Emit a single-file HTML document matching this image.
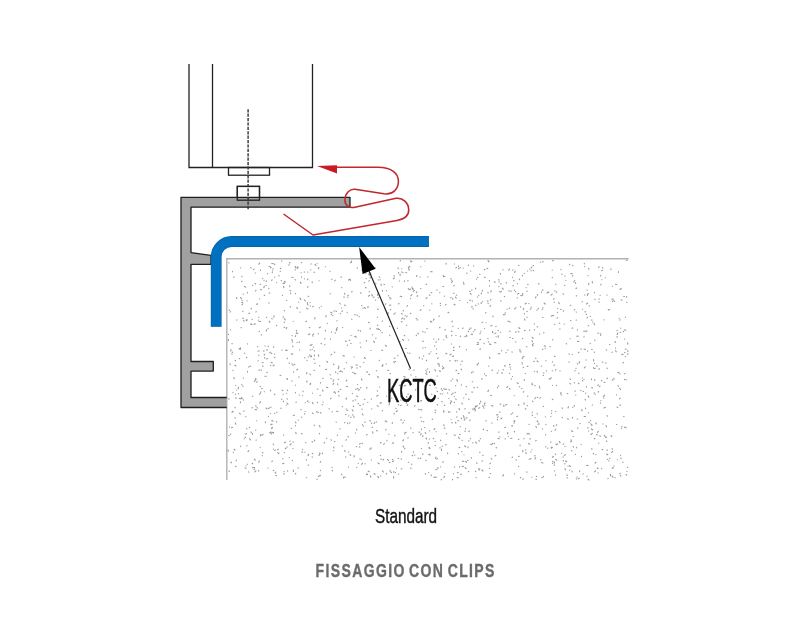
<!DOCTYPE html>
<html><head><meta charset="utf-8">
<style>
html,body{margin:0;padding:0;background:#fff;width:800px;height:640px;overflow:hidden}
svg{position:absolute;left:0;top:0}
.t{font-family:"Liberation Sans",sans-serif}
.tx{will-change:transform}
</style></head><body>
<svg width="800" height="640" viewBox="0 0 800 640">
<!-- concrete -->
<path d="M597.9 468.2l0.2 0.0M350.7 343.2l0.5 0.2M304.8 357.6l-0.1 0.4M588.7 283.2l0.0 1.4M235.8 397.8l0.3 0.6M251.0 431.9l0.4 0.8M296.8 307.4l0.6 1.3M531.9 340.9l0.6 0.7M617.9 385.8l0.6 0.4M421.2 433.7l-0.6 1.3M300.8 299.2l-0.3 0.4M436.0 387.8l0.2 0.1M243.6 320.5l0.6 0.7M464.0 283.9l-0.1 0.5M585.8 359.8l0.3 0.3M270.9 432.0l-1.1 0.8M425.2 332.1l-0.4 0.1M465.1 467.5l0.1 0.4M241.5 398.5l0.7 0.1M551.8 410.8l-0.3 0.2M607.5 378.2l-0.5 0.5M366.5 473.9l0.0 0.7M242.8 318.0l0.7 0.5M601.4 468.6l0.4 0.1M450.5 402.6l-0.2 1.4M553.1 315.5l0.6 0.3M232.7 427.2l-1.3 0.5M553.5 456.5l-1.2 0.8M255.8 470.9l-1.0 1.0M446.3 353.3l-0.4 0.3M450.8 380.7l0.5 0.2M480.5 333.0l-0.6 0.7M400.2 296.3l1.4 0.3M452.8 378.9l-0.4 0.1M611.0 435.5l0.9 1.1M363.3 265.2l-0.3 0.3M388.7 434.2l0.2 0.1M407.7 352.7l0.0 0.2M338.9 391.1l-0.6 0.7M299.1 376.9l-0.5 0.2M262.6 452.4l0.3 0.6M235.1 360.3l0.4 0.6M355.9 336.7l0.3 0.4M600.1 295.2l0.1 0.2M554.6 364.9l-0.8 0.3M443.5 411.7l0.5 0.4M333.6 447.1l0.4 0.8M476.2 477.3l-0.1 0.5M404.9 448.4l-0.4 0.3M272.5 427.4l-0.4 0.8M245.1 437.2l0.4 0.3M454.1 396.5l0.2 0.1M431.6 394.1l0.3 0.4M259.3 460.9l-0.5 1.3M244.4 286.4l1.2 0.8M235.6 394.1l-0.4 0.1M345.8 456.8l-0.1 0.5M536.3 440.3l-0.7 0.6M269.0 266.4l0.5 0.1M570.8 305.2l-0.7 0.0M531.0 308.8l-0.8 0.4M402.4 339.4l1.1 0.9M452.4 422.7l-0.7 0.2M620.6 475.6l0.2 0.4M620.8 328.1l0.0 0.2M368.1 306.2l-0.2 1.4M312.2 349.3l0.2 0.0M522.4 363.7l-0.1 0.4M393.7 314.0l0.5 0.1M346.5 439.7l-0.6 0.4M458.2 472.4l-0.9 0.3M480.5 438.6l-0.4 0.1M620.5 405.1l-0.7 0.0M410.6 260.7l0.5 1.3M250.8 267.5l0.3 0.6M605.2 407.4l-1.3 0.5M515.7 291.5l-0.1 0.1M552.6 361.9l-0.2 0.0M397.4 410.7l-1.1 0.8M274.9 263.9l-0.3 0.9M440.6 303.3l-0.4 0.3M352.9 414.5l0.0 0.7M446.4 433.6l0.2 0.4M523.6 308.3l-0.3 1.4M588.5 293.6l-1.1 0.9M283.9 463.4l-1.4 0.3M615.9 284.3l0.9 0.2M260.5 434.6l0.1 1.4M602.6 267.7l0.3 0.4M457.1 477.8l1.4 0.0M596.0 462.1l-0.9 1.0M256.3 440.0l-0.3 0.2M423.5 421.6l0.3 0.3M598.6 391.7l-0.5 0.5M455.7 385.5l-0.1 0.2M283.7 434.9l-0.2 0.4M604.2 382.4l0.7 0.0M426.7 360.2l-0.3 0.4M472.8 442.7l0.2 0.3M564.5 285.2l0.4 0.2M461.3 474.1l-0.8 0.4M528.9 303.2l-0.0 0.4M442.7 390.2l-0.4 0.2M334.5 391.7l-0.6 0.7M608.7 460.9l0.4 0.1M400.1 274.1l-0.0 1.4M621.4 428.6l-0.1 0.2M287.1 398.5l0.1 0.7M291.8 380.8l0.2 0.3M453.5 473.6l-0.2 0.1M522.5 293.5l0.4 0.8M240.6 267.8l0.2 0.1M584.0 336.6l0.0 0.4M539.7 334.1l-0.2 0.1M592.2 433.3l0.1 0.2M494.6 342.6l1.4 0.1M454.2 402.4l0.2 0.0M571.4 430.8l1.3 0.6M568.5 406.7l-0.5 1.3M613.5 467.9l-1.4 0.2M507.9 349.9l-0.0 0.4M437.1 469.1l-1.2 0.8M455.8 398.8l0.3 0.9M523.8 391.7l-0.5 0.5M518.8 439.2l-0.4 0.3M447.4 453.0l0.3 0.6M598.4 431.3l-1.0 1.0M259.6 298.9l-0.1 0.2M319.0 476.2l-0.7 0.2M560.9 392.2l-0.1 1.4M332.3 467.5l-0.4 0.0M502.9 475.4l0.0 0.4M356.5 429.3l0.3 0.6M445.3 389.1l1.4 0.2M378.1 329.1l1.3 0.5M252.7 285.3l-0.2 0.1M341.6 287.6l0.4 0.1M496.0 333.0l-0.8 0.4M552.5 461.4l0.7 0.5M454.1 347.1l-0.6 0.6M340.9 370.8l-1.1 0.9M520.1 445.1l-0.1 0.7M484.2 269.6l0.7 0.0M372.6 431.7l0.3 1.4M319.8 454.4l-0.9 1.1M509.6 321.6l0.7 0.5M351.3 366.7l-0.2 0.1M330.4 374.7l-0.4 0.2M624.6 352.5l0.4 0.1M310.2 345.0l-0.2 0.1M276.3 421.6l0.4 0.3M560.7 309.4l0.4 0.0M501.7 372.9l0.7 0.2M298.7 302.2l-0.2 0.1M587.9 275.6l0.2 0.0M376.6 421.9l-0.0 0.2M507.8 386.5l-1.0 0.9M582.7 309.2l-0.2 0.1M281.2 280.6l0.4 0.1M627.7 467.3l-0.1 0.2M404.1 318.5l-0.0 0.7M552.2 270.1l-0.0 0.2M296.4 330.4l0.1 0.9M556.5 385.3l0.2 0.3M460.1 267.2l-0.1 0.9M494.5 443.3l0.0 0.4M263.1 434.4l-1.2 0.7M482.7 405.7l0.8 1.2M542.4 309.2l-0.2 0.4M241.8 276.3l0.2 0.5M456.8 411.7l-0.1 0.4M587.3 295.0l0.1 0.4M272.1 279.8l-0.4 0.8M420.1 276.7l-0.0 0.2M574.7 309.6l-0.4 0.3M298.4 420.1l-0.1 0.2M619.6 373.8l0.3 0.2M289.9 290.6l0.8 0.4M588.7 422.2l0.6 0.3M519.0 265.4l-0.4 0.1M399.3 385.3l0.4 0.2M599.0 266.6l-0.3 0.9M421.0 309.7l-0.8 0.5M408.1 378.9l0.2 0.1M367.2 434.6l-0.9 0.3M363.7 426.0l-0.5 0.1M500.2 332.3l0.4 0.0M455.0 360.5l0.7 0.6M264.5 391.7l-0.2 0.1M377.4 309.1l0.9 0.3M381.0 284.2l0.2 0.3M504.4 314.6l0.5 0.2M326.8 361.3l0.8 1.1M337.1 329.1l-0.7 0.2M322.7 389.9l0.3 1.4M456.8 370.3l-0.8 0.4M498.2 416.8l-0.7 0.6M466.3 349.5l0.1 0.4M417.6 390.0l-0.1 0.2M552.6 260.5l0.8 0.5M576.5 288.0l-0.5 0.5M383.7 459.4l-0.6 0.6M483.5 429.2l-0.3 0.4M532.4 412.0l-0.2 0.4M609.5 344.5l0.4 0.1M527.3 291.1l-0.5 0.1M381.8 350.2l0.9 0.2M608.1 478.4l-0.2 0.3M236.8 319.9l-0.1 0.4M287.4 390.1l0.2 0.5M527.3 311.4l-0.4 0.2M426.6 438.3l0.0 0.7M522.7 450.5l0.2 1.4M427.8 276.8l0.1 0.4M582.0 409.7l-0.1 0.5M245.8 416.5l0.1 0.1M500.0 404.0l0.8 0.3M476.6 462.7l0.4 0.8M415.6 376.7l0.5 0.2M316.5 411.9l0.9 0.0M351.7 262.0l-1.1 0.8M317.1 263.5l-0.0 0.2M438.1 357.8l-0.4 0.8M492.6 370.0l-0.6 0.4M346.2 408.9l0.1 0.2M461.9 403.1l0.4 0.8M379.1 360.2l0.4 0.2M300.5 282.7l0.6 0.7M424.6 427.6l0.2 0.1M557.4 317.6l-0.3 0.6M374.0 473.5l1.1 0.9M368.1 471.0l1.1 0.8M544.3 345.9l1.4 0.3M603.2 396.2l0.7 0.1M261.0 369.9l0.4 0.3M541.6 292.1l0.0 0.5M230.6 329.8l0.0 0.2M370.5 475.9l0.2 1.4M342.6 310.8l-0.7 0.6M256.7 420.7l-0.2 0.0M322.8 404.7l-0.9 0.1M496.1 447.3l0.5 0.5M409.4 269.9l-0.4 0.1M269.9 293.0l-0.9 0.0M359.5 446.8l0.3 0.4M584.8 266.7l-0.4 0.1M466.9 417.8l-0.8 0.4M282.2 350.0l-0.3 0.2M542.5 349.3l0.4 0.3M431.0 321.1l-0.7 0.6M360.2 330.6l0.3 0.6M341.7 307.9l-0.2 0.1M575.8 368.2l0.4 0.0M432.1 419.1l0.7 0.3M504.7 296.5l-0.4 0.1M555.3 454.0l0.3 0.6M478.5 363.2l-0.7 0.6M423.0 331.4l-0.1 0.5M255.3 272.9l0.1 0.2M377.8 476.4l0.8 1.2M592.1 425.0l-0.2 0.7M337.1 320.5l-0.1 0.5M448.3 411.8l0.6 0.4M541.2 366.0l0.3 0.2M465.8 336.5l-0.9 0.3M428.2 399.7l-0.5 0.5M314.6 440.0l-0.0 0.9M244.2 438.7l0.2 0.0M613.9 465.7l0.1 0.4M403.9 376.4l1.2 0.7M444.5 296.1l-0.2 0.1M271.7 263.5l1.4 0.1M552.1 294.2l-1.1 0.9M334.3 441.5l0.5 0.1M343.0 355.6l1.4 0.4M519.2 386.8l0.4 0.1M340.1 428.6l-0.0 0.4M446.0 336.6l0.8 1.1M372.4 295.5l-0.2 0.5M333.5 364.2l0.5 0.5M551.2 447.0l0.0 0.5M590.3 343.2l-0.2 0.5M529.5 330.1l0.2 0.5M514.3 290.0l-0.0 0.4M304.3 278.7l0.2 0.1M267.3 358.5l-0.7 0.5M441.8 401.4l0.3 0.6M271.8 420.6l1.3 0.6M352.2 409.8l0.8 1.2M228.5 339.2l-0.2 1.4M556.1 292.1l0.7 0.0M444.9 405.1l-0.5 0.4M477.6 364.5l-0.5 0.5M258.8 355.3l0.1 0.4M599.5 368.9l-0.7 0.2M349.7 279.2l-1.2 0.8M268.4 416.3l-0.1 0.4M572.4 417.2l0.1 0.9M617.3 330.3l-0.4 0.3M473.3 331.3l0.1 0.1M512.5 376.2l-0.0 0.2M238.4 387.4l-0.2 1.4M410.6 428.1l0.4 0.2M538.5 308.2l-0.4 0.6M538.4 283.7l0.2 0.1M498.7 370.8l-0.2 0.0M235.3 422.9l0.5 1.3M554.0 298.5l-0.4 0.8M485.9 420.6l0.3 0.4M240.6 297.6l0.7 1.2M338.0 379.2l0.7 0.1M598.4 384.9l-0.6 0.7M607.2 449.9l-0.1 0.9M547.4 292.5l-0.3 0.6M361.0 292.6l-0.2 0.9M571.6 440.8l-1.0 1.0M587.9 427.4l0.1 0.7M396.5 468.1l0.0 0.2M499.1 281.8l-0.1 0.2M238.5 393.6l0.0 0.2M612.0 448.6l0.3 0.6M275.7 475.6l0.7 0.0M624.4 379.3l0.7 0.5M325.5 266.7l-0.2 0.0M554.3 324.2l0.7 0.0M460.8 364.4l-0.0 0.2M295.5 385.0l-0.0 0.2M255.8 430.0l-0.1 0.1M430.0 295.1l-0.7 0.0M469.2 430.9l-0.2 0.7M451.1 354.0l-1.1 0.8M573.8 281.7l0.3 0.3M423.0 435.8l-0.4 0.8M228.8 435.5l0.4 0.2M306.6 308.0l0.1 0.4M356.9 367.7l0.1 0.5M444.1 410.8l-0.5 0.0M510.5 369.1l0.1 0.2M382.4 470.9l1.0 1.0M359.9 458.7l-0.1 0.2M617.7 333.1l-0.6 1.3M597.9 467.9l-0.7 0.6M461.2 418.0l0.3 0.8M406.5 396.2l0.4 1.3M408.1 393.7l-0.0 0.7M380.6 330.5l0.0 0.2M403.8 399.4l0.2 0.4M615.6 348.0l-0.1 0.2M600.3 403.0l0.4 0.1M229.0 471.0l0.4 0.4M437.0 289.9l-0.0 0.4M359.5 389.6l-1.1 0.8M399.3 280.9l0.1 0.2M565.5 454.7l-1.3 0.6M410.0 353.2l-0.7 0.0M307.4 302.5l0.0 0.7M235.5 385.5l0.2 0.0M335.2 332.6l0.1 0.5M532.0 477.0l0.0 0.2M435.1 380.0l-0.4 0.2M233.2 411.5l-1.2 0.7M602.7 449.4l-0.6 0.4M249.7 438.7l0.7 1.2M530.8 270.8l0.5 0.0M427.3 328.6l-0.5 0.1M231.4 462.1l-0.5 0.8M625.3 349.0l0.9 0.3M429.9 448.3l-0.2 0.5M298.3 267.1l-1.4 0.3M453.2 326.2l-0.5 0.1M351.0 417.1l-0.4 0.3M615.1 341.7l0.5 0.5M621.0 457.9l-0.0 0.7M231.1 349.6l-0.5 1.3M312.9 335.7l0.1 0.5M295.5 422.1l0.5 0.8M284.4 318.7l0.9 1.1M615.7 284.3l-0.0 0.2M429.7 454.4l0.2 0.7M527.2 405.5l0.3 0.2M534.2 323.8l0.4 0.2M606.9 415.7l0.6 0.4M258.8 317.3l0.1 0.2M257.0 303.7l0.6 0.3M394.5 275.9l-0.7 0.1M585.6 408.1l-0.0 0.4M562.1 407.9l0.2 0.7M490.7 305.7l-0.8 0.5M435.0 410.0l0.9 0.2M475.6 305.2l0.4 0.6M575.2 370.6l-0.4 0.3M365.0 421.8l-0.0 0.7M438.4 363.4l-0.5 0.5M565.2 463.8l-0.5 0.1M293.2 277.2l-1.4 0.3M519.2 279.0l0.4 0.8M527.3 433.4l-0.2 0.7M371.8 408.7l-0.1 0.2M412.1 288.9l1.4 0.3M543.1 375.4l0.5 0.1M499.0 431.9l-0.1 0.5M350.8 335.3l0.2 0.1M301.7 262.5l-0.4 0.2M368.5 322.3l0.8 0.5M468.3 471.5l0.3 0.2M594.9 379.5l-0.2 0.9M561.6 453.2l-0.1 0.2M365.8 287.6l0.4 0.3M470.3 293.4l0.8 1.1M319.5 365.6l0.3 0.4M408.3 462.2l0.5 0.0M555.5 474.7l0.2 0.5M397.9 355.2l-0.0 0.5M451.6 394.2l0.1 0.5M575.4 454.2l-0.1 0.2M620.5 288.9l-0.6 0.6M380.3 442.9l0.4 0.0M489.6 357.1l0.2 1.4M310.7 349.9l-0.5 0.2M372.8 334.8l-0.4 0.1M295.4 392.5l0.1 0.4M388.0 312.5l0.4 1.3M405.8 272.5l0.9 0.3M458.2 453.3l0.2 0.7M459.7 300.5l0.2 0.1M471.3 457.6l0.1 0.7M472.1 300.8l0.4 0.3M310.6 383.3l-0.5 1.3M230.6 311.8l-0.5 0.2M257.1 381.5l-0.4 0.8M471.4 372.3l0.5 0.5M347.1 312.2l0.1 0.5M501.2 283.8l-0.6 0.3M400.7 419.9l0.7 0.0M466.2 468.2l-0.1 0.2M488.0 260.2l0.4 0.8M404.2 335.4l0.6 0.4M331.5 331.8l0.0 0.5M290.2 306.7l0.4 0.3M409.8 266.3l-0.9 1.1M262.3 388.5l-0.6 0.3M537.1 310.0l-0.4 0.0M464.8 418.9l-0.6 1.3M443.2 275.3l0.4 1.4M571.0 439.7l0.2 0.5M300.9 409.6l0.4 0.1M482.8 322.1l-0.7 0.5M299.4 395.1l-0.2 0.0M398.5 272.5l0.2 0.7M508.3 436.8l0.2 0.0M306.5 321.2l-0.7 0.5M620.9 332.2l-0.9 0.1M295.8 473.4l-0.5 0.5M358.3 463.3l-0.2 0.1M426.0 438.1l0.6 0.7M277.9 452.5l-0.1 0.5M293.5 371.9l0.2 0.3M439.9 292.2l-0.1 0.4M498.3 336.7l-0.0 0.5M468.9 440.6l-0.1 0.5M391.7 390.2l0.1 0.2M446.0 304.3l-0.6 0.7M359.2 316.3l-0.1 0.5M540.7 459.4l0.2 0.5M524.1 356.5l-1.3 0.5M617.0 407.0l0.8 0.4M392.5 422.6l-0.3 0.8M458.7 268.4l-0.2 0.3M503.4 314.5l0.3 0.4M371.7 423.0l-0.2 0.4M468.3 331.3l0.3 0.4M451.6 344.0l-0.2 0.1M296.6 332.8l-0.3 0.7M301.6 276.7l-0.0 0.5M274.6 413.2l0.2 0.4M543.5 372.9l0.4 0.2M369.5 291.6l-0.4 0.3M232.4 411.4l0.4 0.6M293.1 415.2l1.4 0.1M291.1 428.3l0.5 0.0M284.3 283.0l0.2 0.5M235.0 407.4l0.3 0.4M518.7 327.7l1.2 0.8M293.1 441.8l0.2 0.4M475.4 471.2l0.3 0.3M382.4 290.4l0.2 0.9M434.8 369.7l0.8 1.2M354.3 357.0l-0.2 0.1M310.8 269.7l-0.1 0.2M535.7 358.1l0.2 0.5M535.5 397.7l-0.8 1.1M600.7 275.2l-0.0 0.7M244.3 411.0l-0.7 0.2M354.5 373.6l1.4 0.1M325.2 330.4l0.4 0.6M419.4 380.5l-0.1 1.4M343.6 297.0l0.7 0.1M236.4 297.6l0.5 0.8M590.6 420.4l-0.2 0.4M497.9 438.2l1.3 0.6M490.4 463.2l-0.5 0.4M253.2 467.5l1.4 0.1M228.9 398.4l-0.0 0.9M408.0 280.5l-0.2 0.4M542.4 477.5l-0.7 0.2M457.1 360.4l0.1 0.4M535.1 458.9l0.2 0.0M621.2 299.8l0.8 0.4M443.8 286.5l-0.9 0.0M576.3 478.8l0.5 0.2M350.1 454.6l0.5 0.8M438.1 398.1l0.3 0.4M260.6 321.5l-1.4 0.0M265.3 421.9l0.2 0.7M581.2 348.7l-0.1 0.7M389.3 402.5l0.2 1.4M346.6 362.6l-0.4 0.1M587.5 317.4l-0.4 0.5M476.5 279.1l0.1 0.2M508.7 290.8l0.6 0.3M310.2 383.6l0.3 0.6M459.8 466.7l-0.3 0.3M515.7 341.9l0.3 0.2M361.7 270.1l0.2 0.1M340.8 389.4l-0.5 0.1M275.1 472.1l0.8 1.1M489.5 344.1l1.4 0.3M491.3 290.7l-0.5 1.3M285.2 448.2l0.7 0.5M246.5 428.8l0.5 0.2M390.8 472.0l0.7 0.6M612.5 286.2l-0.2 0.0M239.5 398.4l1.3 0.4M404.3 420.2l0.2 0.0M515.9 331.5l-0.1 0.9M394.7 435.1l0.3 0.8M563.0 293.7l0.6 0.4M624.4 329.8l1.3 0.6M429.9 310.1l-0.2 0.1M520.7 295.5l0.5 0.1M394.2 358.1l0.7 0.2M543.5 406.3l-0.4 0.3M344.9 422.5l-0.3 0.2M394.4 277.9l-1.1 0.8M408.5 268.7l0.8 1.2M287.3 378.5l-0.6 0.3M454.0 435.0l1.4 0.3M466.8 273.0l0.2 0.5M459.1 373.5l-0.9 0.1M233.1 392.3l-0.1 0.4M583.3 473.9l-0.5 0.1M499.1 286.5l-0.3 0.2M305.6 442.5l0.3 0.2M575.9 395.0l-0.2 0.1M386.6 396.1l-0.2 0.1M274.8 277.1l-0.1 0.2M606.1 425.6l0.4 1.3M386.1 363.9l0.2 0.0M270.8 424.2l1.4 0.0M482.4 460.9l-0.4 0.3M600.4 333.7l0.6 0.4M564.2 324.0l-0.1 0.2M306.2 477.7l0.4 0.1M511.9 351.9l0.4 0.2M626.5 379.7l0.2 0.0M480.9 331.1l-0.0 0.2M286.7 393.3l-0.4 0.0M249.0 366.4l-0.2 0.7M450.7 297.6l0.5 0.1M356.5 389.0l-0.9 0.3M299.6 349.8l0.1 0.2M389.2 462.5l0.7 0.1M441.5 479.4l-0.3 0.4M243.3 294.0l-0.2 0.3M273.4 449.0l0.1 0.2M526.9 317.3l0.4 0.0M281.4 261.0l0.4 0.1M419.3 357.2l-0.0 0.9M528.6 443.5l1.1 0.8M329.8 271.2l0.4 0.0M375.3 267.8l-1.2 0.7M370.1 328.0l0.0 0.9M437.7 467.6l0.5 0.5M606.6 454.0l1.2 0.8M314.0 358.9l0.2 0.7M487.7 430.5l-0.7 0.1M274.2 365.0l-1.1 0.8M346.0 414.4l-0.4 0.2M350.3 279.2l-0.0 1.4M520.5 306.8l0.3 0.4M381.0 442.4l-0.3 0.2M456.5 379.9l0.9 0.1M370.2 266.7l-0.3 0.3M516.0 307.7l-0.5 0.0M294.8 364.4l-0.4 0.0M622.2 426.5l-0.4 0.3M401.1 458.8l0.4 0.3M532.5 401.0l0.5 0.7M381.9 365.9l0.9 0.2M313.4 306.4l-0.6 0.4M438.9 364.0l0.4 0.6M570.6 320.6l0.4 0.2M295.3 266.4l0.2 1.4M437.2 404.7l0.4 0.3M437.5 458.5l-0.8 0.4M552.5 315.4l-1.2 0.7M527.5 396.1l0.4 0.0M475.2 329.7l-0.7 0.2M472.1 333.9l0.1 0.7M312.8 402.4l0.0 1.4M462.0 440.2l0.1 0.5M454.0 293.2l-0.3 0.3M429.6 430.8l0.2 0.1M271.8 318.4l0.4 0.6M560.1 329.0l-0.4 0.1M491.2 458.6l0.6 0.4M539.4 387.8l0.6 0.3M248.9 313.4l0.7 0.0M585.3 366.8l-1.0 1.0M270.3 413.4l-0.0 0.2M420.9 457.7l-0.3 0.9M344.7 293.3l-0.0 0.9M436.7 348.9l-0.2 0.1M299.5 341.9l-0.3 0.6M306.2 459.6l0.3 0.4M393.6 476.5l0.1 1.4M623.7 416.6l0.4 0.2M450.5 278.7l0.5 0.0M592.5 429.5l0.3 0.4M537.9 421.8l0.2 0.1M615.5 350.7l0.8 1.1M574.5 405.5l-0.3 0.8M377.6 376.4l0.8 1.2M604.2 395.2l0.4 0.2M426.3 371.9l0.5 0.1M254.3 459.2l1.0 1.0M434.6 345.8l0.1 0.5M431.7 303.8l0.2 0.1M586.9 290.1l0.2 0.1M608.2 309.6l1.4 0.3M505.0 312.8l0.4 0.3M312.2 453.4l0.6 0.3M400.5 260.7l-0.3 0.3M347.5 297.0l0.7 0.2M409.3 267.2l-0.9 0.3M565.1 468.5l0.2 1.4M273.2 268.8l-0.4 0.2M490.6 473.5l-0.4 0.1M312.1 281.8l0.2 0.9M561.2 394.6l-0.0 0.5M307.9 279.0l-0.4 0.8M525.7 449.9l-0.4 0.2M379.8 387.0l-0.4 0.0M464.8 431.1l0.7 0.1M260.1 386.6l0.5 0.0M392.2 286.8l0.1 0.2M421.5 448.6l-0.2 0.0M313.7 333.8l-1.0 1.0M376.5 328.8l1.4 0.3M266.7 329.7l-0.5 1.3M528.7 433.2l0.6 1.3M434.0 477.0l-0.1 0.4M604.3 435.4l0.9 1.1M484.0 408.1l0.1 0.2M596.9 365.6l0.1 0.9M514.8 308.6l-0.0 0.4M309.7 333.9l-1.2 0.7M572.1 354.5l0.2 0.0M309.7 354.8l0.5 0.5M497.3 419.3l0.4 0.6M355.8 399.9l-0.7 0.1M305.1 411.5l0.2 0.1M522.0 388.3l-0.4 0.2M543.1 290.0l-0.9 0.1M431.1 474.8l0.2 0.9M460.6 336.0l-0.3 0.4M448.9 398.4l0.1 0.2M345.3 477.0l-0.4 0.2M390.1 470.4l-0.1 0.9M377.5 294.3l0.2 0.3M343.8 476.8l-0.2 1.4M312.9 441.7l-0.9 0.2M584.8 294.7l0.0 0.4M407.5 305.6l-0.5 0.7M378.0 395.4l-1.2 0.7M599.9 435.8l0.4 0.6M380.0 402.9l1.4 0.0M555.2 356.3l-0.8 0.3M262.6 278.3l0.2 0.1M366.8 387.4l0.0 0.9M326.4 387.3l1.4 0.3M425.3 473.6l0.3 0.6M351.8 319.1l0.1 0.4M602.9 423.9l0.2 0.1M582.4 378.1l-0.1 0.2M596.6 434.5l0.5 0.5M272.0 432.3l0.6 0.3M335.9 311.0l0.5 0.5M613.9 300.7l0.7 0.6M444.9 276.5l-0.9 0.1M561.8 274.1l0.2 0.4M400.8 400.1l0.1 0.2M514.4 473.9l0.2 0.0M436.0 431.8l0.2 0.0M572.9 328.0l-0.9 0.1M486.2 322.7l-0.2 0.0M584.0 379.6l-0.2 0.1M513.0 269.8l-0.3 0.3M311.4 355.9l-0.0 0.2M511.5 378.9l-0.3 0.3M503.2 369.5l0.2 0.5M545.9 446.6l-0.3 0.3M346.6 380.0l0.1 0.9M284.5 283.3l-1.4 0.1M627.9 350.6l0.0 0.9M401.8 451.4l-0.4 0.8M408.4 437.8l-0.7 0.2M617.4 459.8l0.2 0.0M567.5 477.8l-0.4 0.2M556.6 424.8l-0.4 0.6M556.0 444.0l0.5 0.8M256.9 407.8l0.9 0.2M436.3 477.1l-1.4 0.1M429.2 385.3l1.4 0.0M472.0 289.9l-0.4 0.1M245.1 467.9l0.8 0.4M512.5 457.2l-0.4 0.3M234.1 449.2l0.4 0.2M364.2 399.2l0.7 0.1M428.5 442.7l-0.3 0.4M266.6 349.9l0.7 0.0M524.6 318.8l0.2 1.4M309.2 327.5l0.6 0.3M347.8 410.2l-0.9 0.2M440.7 440.0l0.0 0.7M473.6 265.9l-0.0 0.2M384.0 284.4l0.5 0.2M326.5 438.1l0.2 0.3M356.4 396.1l1.3 0.5M360.1 342.7l0.1 0.2M570.2 338.5l0.0 0.2M271.1 407.1l-0.0 0.2M403.1 445.9l0.6 1.3M361.5 378.8l0.4 1.4M264.2 354.2l0.5 0.7M411.0 313.3l-0.6 0.3M454.0 304.2l1.2 0.8M465.1 408.6l-0.2 0.4M332.9 315.4l-0.2 0.3M508.6 321.1l-0.8 0.3M585.9 393.1l-0.5 0.1M358.3 403.5l0.3 0.4M252.0 324.5l-0.4 0.1M287.2 379.2l0.3 0.2M559.4 441.6l0.7 1.2M509.7 308.1l-0.4 0.4M569.3 465.7l1.2 0.7M319.2 433.2l0.2 0.7M393.6 442.9l-1.4 0.3M531.0 458.3l-0.5 0.5M422.8 341.0l0.5 0.5M320.1 475.3l0.3 0.4M519.3 456.3l-0.9 0.2M404.5 280.9l0.1 0.5M627.8 342.8l-0.2 1.4M360.4 405.4l-0.7 0.1M394.2 413.3l-0.2 0.7M315.0 317.6l-0.2 1.4M408.7 369.3l0.7 0.2M490.8 444.4l0.9 0.2M577.3 329.9l0.2 0.0M527.7 284.4l0.5 0.1M535.2 385.6l-0.4 0.1M523.8 402.9l0.5 1.3M369.4 274.6l-0.1 0.9M433.6 438.3l-0.3 0.4M407.1 316.1l-0.5 0.5M246.3 320.4l0.7 0.2M304.3 299.9l1.0 1.0M314.4 350.5l-0.1 0.7M315.2 363.1l-0.3 0.3M269.9 322.0l-0.5 0.1M592.6 322.0l0.2 0.1M282.1 390.2l0.7 0.5M337.6 435.0l-0.3 0.4M317.7 402.4l-0.4 0.3M606.3 349.8l0.4 0.3M502.3 288.2l1.0 1.0M277.0 412.1l-0.3 0.2M530.8 451.9l0.1 0.2M319.6 475.6l0.9 0.1M231.9 343.6l0.5 0.1M319.0 280.7l0.2 0.0M286.3 405.0l0.1 0.2M602.4 270.4l-0.7 0.2M241.6 302.5l1.3 0.4M506.2 282.3l0.1 0.9M392.8 459.4l-0.4 0.1M531.0 307.0l0.3 0.2M268.5 346.4l-0.4 0.1M341.9 371.6l0.6 0.4M517.0 382.8l1.2 0.7M488.4 341.9l0.3 0.3M626.8 296.6l-0.5 0.5M280.1 271.1l0.3 0.2M293.1 448.5l-0.2 0.0M372.0 427.3l0.7 0.0M549.2 378.7l0.5 0.5M591.2 320.0l0.9 0.0M541.6 462.6l1.3 0.5M439.4 316.1l-0.7 0.1M300.5 282.2l-0.2 0.3M427.0 297.6l-1.0 1.0M451.0 400.7l0.7 1.2M265.0 345.8l0.1 0.2M522.4 338.4l0.4 0.3M418.9 432.1l0.9 0.0M337.6 383.9l0.2 0.9M442.4 446.1l-0.3 0.3M468.7 431.3l0.2 0.1M600.9 275.5l-0.1 0.4M454.4 263.9l0.1 0.2M399.0 303.6l-0.6 0.3M248.8 450.5l-0.8 1.1M436.5 341.9l-0.7 0.5M327.3 323.3l-0.1 0.4M302.7 395.7l-0.2 0.1M244.5 353.1l0.4 0.1M478.7 468.8l0.4 1.3M246.7 433.7l-1.4 0.3M236.4 460.2l-0.3 0.4M559.2 323.1l0.5 0.2M395.1 361.4l0.5 0.2M369.6 295.3l-1.1 0.9M463.2 415.6l0.4 0.6M537.2 397.4l0.7 0.1M289.6 285.9l0.2 0.7M408.7 339.9l-0.2 0.1M554.2 464.9l0.1 0.5M587.6 350.8l-0.0 0.5M496.0 336.7l0.2 0.1M509.8 367.0l0.5 0.1M236.6 390.0l0.2 0.0M478.8 440.7l0.8 0.3M503.8 405.0l0.1 1.4M382.6 410.6l-0.3 0.4M585.1 399.3l0.4 0.8M550.4 442.0l0.7 0.0M270.9 424.4l0.1 0.5M267.5 372.3l-0.7 0.1M234.1 276.9l-0.3 0.4M509.6 269.2l-1.0 1.0M451.9 335.3l-0.3 0.4M534.4 329.5l-0.2 0.4M588.0 465.4l-1.4 0.1M594.6 299.3l0.4 0.1M477.5 277.4l0.5 0.1M457.9 420.4l0.6 0.3M595.8 422.7l0.5 1.3M481.2 302.5l0.0 0.9M393.8 471.6l-0.2 0.5M623.7 296.5l0.7 0.0M410.6 289.0l-1.2 0.7M259.6 263.1l-0.7 1.2M368.5 274.1l0.2 0.1M255.3 380.3l-1.0 1.0M577.2 363.7l0.6 0.3M473.2 371.5l-0.2 0.4M478.3 303.7l-0.1 0.4M239.8 349.4l0.7 0.1M280.0 375.2l0.8 0.3M423.7 305.6l0.1 0.2M420.6 409.6l1.3 0.5M256.2 311.5l-0.3 0.6M380.9 459.0l0.4 0.2M435.9 457.1l-0.4 1.3M572.9 275.8l-0.6 0.3M545.9 424.4l-0.1 0.4M400.8 396.9l0.4 0.1M564.8 446.5l0.4 0.0M279.0 453.1l-0.3 0.3M477.3 342.5l1.3 0.6M307.0 380.8l-0.2 1.4M540.7 397.6l-0.8 0.5M577.8 419.1l-0.5 0.2M259.6 331.3l-0.4 0.1M543.9 332.5l-0.1 0.4M393.6 460.9l-1.3 0.5M619.6 388.4l1.0 1.0M579.7 470.8l-0.2 0.9M410.8 374.9l0.2 0.3M477.5 297.0l0.1 0.2M459.6 434.4l0.5 0.2M504.5 365.9l0.9 0.0M313.3 347.1l0.1 0.2M337.4 327.7l-0.7 0.6M268.7 288.2l0.1 0.5M532.1 415.0l0.3 0.6M536.0 296.7l-0.5 1.3M365.9 273.2l-0.4 0.1M406.2 432.2l-1.3 0.5M260.4 393.2l-0.8 1.1M620.5 455.4l0.1 0.2M362.5 443.3l-0.6 0.3M598.0 472.9l0.2 0.1M331.0 398.0l-0.3 0.9M446.1 335.4l0.3 0.2M252.5 467.7l-0.2 0.1M420.6 266.8l0.2 0.0M416.8 275.6l-0.4 0.8M473.2 408.9l-0.8 0.4M535.2 457.5l0.0 0.5M240.5 446.0l0.2 0.4M273.8 346.7l-0.4 0.6M442.4 366.2l0.0 0.2M569.8 383.6l0.8 0.4M255.0 409.5l1.4 0.1M625.3 356.4l0.1 0.2M395.9 408.4l0.2 0.0M333.7 383.3l-0.7 1.2M595.0 438.5l-0.8 0.3M567.3 418.8l1.3 0.4M271.1 362.4l1.3 0.5M430.0 454.4l-1.4 0.1M552.3 277.3l0.0 0.4M259.3 351.0l-1.4 0.0M239.5 413.0l0.8 1.1M402.0 468.8l-0.9 0.2M473.9 387.5l0.4 0.4M452.4 321.1l-0.5 0.8M364.4 307.5l1.1 0.9M228.9 262.5l-0.0 0.5M525.1 330.4l-0.7 0.2M588.7 412.7l-0.1 0.2M275.1 357.2l-0.9 0.1M270.5 267.5l0.1 0.4M366.6 371.8l0.8 0.5M573.1 436.5l0.4 0.0M423.7 355.9l-0.2 0.4M292.2 460.3l0.4 0.3M354.1 455.5l-0.0 1.4M287.4 470.9l0.3 0.3M574.7 280.2l0.0 0.2M416.4 335.1l-0.1 0.5M362.4 424.5l-0.2 0.4M586.7 476.2l0.5 0.1M414.4 290.5l-1.2 0.8M251.1 323.6l-0.4 0.6M306.8 372.5l-0.1 1.4M535.9 426.7l0.7 0.6M466.1 386.6l0.4 0.2M234.8 365.3l1.2 0.7M579.0 352.3l-0.6 0.4M539.0 283.7l0.0 0.2M452.5 281.3l-0.9 1.1M389.1 404.8l-0.2 0.1M267.3 273.5l0.1 0.4M283.1 394.3l0.1 0.2M612.7 451.4l-1.0 1.0M363.1 307.9l-0.2 0.4M356.0 364.7l1.3 0.5M570.0 378.9l0.5 0.5M310.2 302.3l-0.2 0.1M258.5 470.5l0.3 0.6M402.7 318.0l-1.0 0.9M500.2 273.5l0.4 0.8M330.5 338.9l-0.1 0.4M434.9 428.5l-0.9 1.1M488.6 390.2l-0.7 1.2M282.3 295.2l0.3 0.2M533.3 343.6l-1.0 1.0M340.4 313.6l0.2 0.1M235.3 417.9l-0.4 0.0M395.1 312.9l0.0 0.4M571.6 450.6l0.3 0.3M524.3 438.7l-0.5 0.1M447.5 392.9l0.3 0.3M305.0 452.1l-0.2 0.0M377.3 390.8l0.2 0.5M248.5 471.9l0.3 0.3M364.4 357.5l1.0 1.0M604.1 319.7l0.1 0.2M308.9 402.0l-0.0 0.2M229.5 426.9l0.0 0.2M344.7 305.0l0.6 0.6M462.2 361.1l-0.3 0.6M509.4 388.5l0.5 0.5M594.5 292.3l-0.1 0.5M352.4 291.8l-0.9 0.1M348.6 467.0l-0.1 0.2M291.9 335.7l0.5 0.1M581.4 456.2l0.1 0.5M383.0 364.7l-0.5 0.7M382.3 332.5l-0.3 0.2M255.6 405.8l0.6 0.4M449.0 389.3l0.3 0.9M246.8 319.4l0.3 0.4M338.2 368.3l0.2 0.4M284.2 322.1l0.2 0.4M465.7 428.5l-0.1 0.4M295.7 432.4l0.5 1.3M626.3 260.0l0.8 0.5M284.4 452.5l-0.1 0.2M377.1 405.6l1.2 0.8M552.5 370.7l-0.2 0.1M594.7 340.0l0.2 0.5M360.2 443.4l-0.5 0.7M560.1 370.7l-0.1 0.4M377.5 325.2l0.3 0.3M324.9 344.6l-0.4 0.3M241.9 304.6l0.7 0.1M365.0 463.6l0.1 0.4M555.7 459.3l1.1 0.9M563.4 457.0l-0.4 0.1M240.4 401.9l0.1 0.7M263.8 287.3l0.1 0.2M477.7 387.3l-0.5 0.1M431.0 351.8l-0.2 0.1M551.1 377.6l-0.4 1.3M261.7 334.8l-0.5 0.2M551.3 431.2l-0.0 0.2M405.2 355.9l-0.6 0.3M550.4 346.7l-0.5 0.1M246.4 357.3l0.4 0.6M572.7 265.3l0.2 0.5M262.8 365.7l0.1 0.9M507.1 309.1l0.1 0.2M382.5 320.9l-0.4 0.3M254.6 469.1l-0.6 0.4M506.9 404.5l-1.3 0.5M456.3 295.1l0.4 0.2M479.2 468.8l0.5 0.2M585.6 311.7l-0.7 0.2M499.7 353.6l-1.4 0.2M398.1 267.7l0.1 0.9M428.8 353.7l0.9 0.2M518.3 331.6l0.6 0.3M437.0 375.9l0.2 0.4M285.7 350.4l1.4 0.1M264.2 286.4l0.1 0.5M335.6 371.9l0.2 0.7M623.5 331.2l0.0 0.5M377.9 295.0l-0.5 0.2M295.6 425.6l-0.2 0.3M411.2 468.0l-0.4 0.3M500.7 300.8l0.3 0.4M266.0 408.0l1.1 0.9M463.5 466.3l-1.3 0.5M326.1 315.6l-0.2 1.4M249.4 427.3l0.3 0.4M485.8 375.6l0.5 0.2M321.2 306.2l0.2 0.1M495.2 281.9l-0.9 0.2M259.6 370.0l-0.7 0.3M518.9 293.3l-1.3 0.6M554.5 462.1l-0.0 0.9M562.5 417.4l-0.4 0.3M320.5 327.1l-1.2 0.7M461.4 384.8l-0.2 0.3M436.2 353.6l0.7 0.1M509.7 331.1l0.4 0.5M366.1 278.5l0.1 0.1M438.7 339.1l-0.3 0.6M557.8 308.4l-0.2 0.1M293.2 365.1l-0.2 0.3M315.0 264.4l0.9 1.1M312.4 413.1l0.6 0.6M296.2 402.0l-0.2 0.4M371.0 447.7l0.1 0.7M264.1 295.2l0.7 0.2M357.7 384.4l-0.0 0.2M241.7 384.4l0.2 0.5M516.0 459.9l0.4 0.0M591.4 378.7l0.1 0.9M385.4 345.3l1.1 0.9M395.0 472.5l0.5 0.1M482.7 455.3l0.5 0.2M463.9 454.8l0.2 0.0M453.6 355.9l-1.2 0.6M378.0 463.0l1.1 0.8M526.4 346.8l0.5 0.1M475.6 406.1l-0.4 0.8M386.4 290.6l0.1 0.2M490.8 299.3l-0.1 0.9M513.8 280.5l0.3 0.3M480.4 349.0l-0.5 0.5M264.0 280.1l0.1 0.4M416.9 291.9l-0.6 0.7M308.6 465.0l-0.5 0.2M542.9 307.5l-0.0 0.5M376.0 338.1l-0.2 0.3M374.9 422.3l-0.8 1.2M496.1 326.4l-0.3 0.2M460.6 426.7l-0.5 0.0M346.3 380.2l0.2 0.4M475.5 288.1l0.2 0.9M371.0 448.7l-1.3 0.6M499.3 291.7l0.2 0.1M525.3 408.9l0.7 0.0M497.9 330.4l0.6 0.3M470.5 300.0l-0.8 0.4M309.9 374.0l0.6 0.7M357.4 388.6l0.7 0.1M255.3 323.9l-1.4 0.3M365.9 287.5l-0.4 0.1M503.6 474.8l-0.7 1.2M412.1 455.3l0.6 0.4M262.3 455.5l-0.1 0.2M271.1 353.2l0.7 0.2M626.9 471.2l0.1 0.2M333.3 379.8l-0.1 1.4M582.6 301.7l-0.5 0.1M512.0 438.3l-1.4 0.2M491.9 325.4l-1.3 0.5M437.0 391.3l0.6 0.3M443.9 367.9l0.0 0.4M321.0 343.4l0.7 0.5M292.6 346.1l0.4 0.6M385.8 303.8l-0.4 0.6M375.6 300.1l-0.1 0.2M332.1 411.5l0.0 0.5M284.1 471.4l-0.2 0.3M503.0 269.7l-0.2 0.3M314.3 355.0l0.2 0.9M370.3 272.7l0.6 1.3M534.5 455.8l0.7 0.1M481.5 293.1l-0.4 0.8M522.8 358.0l-0.6 0.7M252.8 396.2l-0.5 0.0M330.8 378.5l0.4 0.1M264.8 376.2l1.4 0.1M305.2 402.5l-0.0 0.2M326.8 369.2l-1.4 0.3M287.1 403.0l0.8 1.1M623.6 362.4l-0.7 0.6M580.8 390.2l0.2 0.5M542.8 261.5l0.3 0.3M408.1 378.9l0.1 0.2M607.1 368.0l0.2 0.5M342.4 445.7l-0.2 0.4M256.5 304.3l0.5 0.1M241.3 327.6l-0.4 0.1M377.3 317.2l0.1 0.1M443.7 424.8l0.4 0.8M466.2 335.0l0.9 1.1M342.6 327.5l0.2 0.1M469.6 291.4l0.4 0.1M525.4 373.4l-0.2 0.1M577.0 295.8l-0.9 0.2M526.1 452.4l-0.1 1.4M390.4 309.6l0.5 0.1M386.0 421.8l0.9 0.0M360.9 387.5l-0.4 0.3M422.3 382.4l0.2 0.0M594.5 363.3l-0.0 0.2M391.0 298.6l-0.8 0.4M467.7 302.5l-0.2 0.1M600.0 386.1l-0.5 0.5M302.6 449.3l0.1 0.4M398.1 458.2l0.5 0.2M514.5 420.5l-0.6 0.7M602.0 279.7l-0.2 0.1M319.5 425.6l0.5 1.3M458.6 437.2l0.7 1.2M386.0 429.2l-0.3 0.8M279.0 275.4l-0.0 0.5M371.0 350.4l-0.2 0.1M579.6 361.6l-0.4 1.4M510.2 337.4l-0.4 0.1M283.0 458.8l-0.4 0.1M484.6 405.1l0.4 0.3M426.0 284.2l0.7 0.2M348.2 436.3l-0.2 0.7M543.4 476.3l0.2 0.4M534.5 361.3l-0.9 0.2M584.3 263.3l0.1 0.7M578.1 428.0l-0.7 0.1M425.3 347.5l-0.1 0.1M490.7 395.4l0.7 0.2M600.7 400.7l0.2 0.1M468.7 398.9l0.4 0.8M498.3 335.7l-0.1 0.7M576.3 320.1l-0.1 0.2M254.1 269.0l-0.6 0.7M295.2 269.5l-0.0 0.5M345.4 341.1l0.9 0.2M544.9 303.2l0.1 0.9M591.6 428.8l0.2 0.9M380.7 475.9l-0.2 0.1M311.9 344.2l0.1 0.2M260.5 401.7l-0.7 1.2M475.0 408.0l-0.9 1.1M597.8 333.0l0.8 0.3M443.4 367.7l-0.9 1.1M260.1 447.4l0.1 0.2M365.7 270.7l0.0 0.2M455.8 335.5l0.2 0.1M353.7 406.2l-0.3 0.4M293.3 470.1l0.1 1.4M346.6 398.0l-0.6 1.3M497.4 387.3l-0.0 0.4M418.5 409.3l0.6 0.4M289.3 362.7l-0.1 0.7M371.4 294.8l0.7 0.1M356.8 446.6l-0.5 0.1M588.7 268.2l0.2 0.9M358.3 330.1l-0.1 0.7M450.5 360.8l-0.7 0.1M574.5 382.6l-0.3 0.4M301.3 417.1l0.5 0.2M463.9 461.3l-1.4 0.1M457.3 381.1l0.4 0.1M537.3 420.8l-0.1 0.7M243.5 399.7l-0.1 0.5M390.0 297.3l-0.4 0.3M578.3 383.2l0.8 0.5M539.2 423.9l-1.3 0.4M435.0 412.3l0.4 0.3M594.4 392.7l-0.3 0.6M353.5 416.8l0.8 0.4M369.8 420.6l0.6 0.3M443.2 461.5l-0.3 0.9M247.6 343.8l-0.2 0.1M378.5 279.7l0.0 0.2M599.1 298.8l-0.2 0.5M572.2 273.6l-1.4 0.0M362.4 413.8l0.7 1.2M336.1 422.1l0.2 0.1M553.6 425.5l0.3 0.7M378.6 328.7l-0.1 0.4M567.9 466.0l0.2 0.0M280.8 408.1l0.3 0.3M433.8 338.8l-0.1 0.5M319.1 307.7l0.5 0.2M307.9 272.1l-0.2 0.0M307.8 308.8l0.2 0.3M465.5 461.4l1.1 0.9M418.1 458.1l0.7 0.5M475.5 442.3l1.2 0.8M346.2 386.3l1.3 0.5M459.0 408.4l0.5 1.3M506.1 352.3l-0.0 0.4M445.1 428.0l-0.9 0.1M514.1 395.7l0.2 0.1M488.0 303.1l0.2 0.5M487.0 268.4l0.8 0.3M329.1 408.6l0.1 0.4M529.9 438.5l0.2 0.7M552.7 339.6l-0.1 0.4M291.9 363.9l0.4 0.2M626.6 302.2l0.4 0.2M406.8 325.1l-0.4 0.3M463.1 328.0l-0.6 0.4M463.6 282.4l0.0 0.5M606.3 440.8l0.6 0.7M247.0 300.8l0.2 0.1M563.8 443.9l-0.6 0.3M357.1 267.9l0.4 0.0M379.3 276.8l0.5 0.7M522.7 295.0l-0.6 0.4M389.7 335.1l0.2 0.7M533.3 270.3l0.3 0.4M247.6 371.3l-0.1 0.9M615.1 342.1l-0.2 0.0M408.2 288.7l0.5 0.5M401.7 313.5l0.5 0.5M576.9 477.0l0.2 0.1M364.8 282.6l-0.7 0.1M424.9 261.0l0.1 0.2M256.0 290.3l-0.6 0.7M269.7 407.7l-1.2 0.7M546.7 370.9l-0.5 0.1M314.3 425.1l-0.1 0.5M354.5 373.1l-0.1 0.2M304.3 271.8l-0.0 0.4M585.5 416.5l-1.4 0.0M474.9 408.8l-0.2 0.7M335.3 280.2l-0.6 0.6M479.7 274.2l0.3 0.2M463.7 397.9l0.1 0.2M274.4 394.2l0.5 0.4M393.8 361.9l0.5 0.7M536.3 476.4l0.4 0.2M569.4 470.0l-0.0 0.2M289.0 264.6l-0.0 0.7M427.9 368.8l-0.4 0.3M613.8 378.3l0.3 0.8M380.4 279.8l-0.5 0.1M485.6 312.7l0.3 0.3M283.3 316.8l-0.2 0.4M521.9 362.6l0.1 0.1M412.0 287.1l0.2 0.5M263.9 350.6l-0.1 0.7M531.9 267.2l-0.6 0.6M588.7 325.6l-0.5 0.2M361.0 459.3l0.1 0.4M270.6 365.4l0.1 0.2M616.8 424.5l-0.4 0.0M472.2 381.8l0.5 0.0M380.7 455.5l-0.4 0.0M311.1 263.8l-0.1 0.4M518.9 466.3l-0.4 0.1M348.9 451.7l-0.1 0.5M505.5 438.8l-0.4 0.2M360.8 347.0l-0.4 0.2M318.9 267.4l-0.5 1.3M612.1 476.2l0.9 1.0M605.5 277.8l-0.2 0.0M451.5 280.1l0.4 0.1M232.5 271.3l-0.1 0.7M558.7 302.4l0.6 1.3M598.8 443.1l-0.1 0.2M286.9 350.1l-0.7 0.2M231.8 353.9l0.4 0.1M478.7 295.3l0.2 0.4M542.3 428.8l0.3 0.2M232.2 351.8l0.2 0.7M563.6 310.8l-0.3 0.4M417.4 387.8l-0.2 0.3M228.5 334.2l0.0 0.4M242.1 281.1l-0.5 0.5M240.5 347.8l0.0 0.7M510.1 364.4l-0.7 0.2M464.2 416.9l-0.4 0.8M256.1 379.2l-0.9 0.3M475.5 410.2l-0.6 0.6M461.1 369.0l0.4 0.6M582.4 380.6l0.2 0.4M626.2 427.2l-0.3 0.7M441.5 388.5l-0.2 0.7M578.6 373.3l0.3 0.2M585.0 331.0l-1.4 0.2M404.5 378.3l-0.3 0.3M563.5 460.5l-0.3 0.3M266.6 317.3l-0.1 0.2M455.3 392.4l-0.3 0.3M482.7 301.6l0.0 0.2M290.1 441.1l-0.2 0.1M600.6 335.4l-0.1 0.2M485.1 402.9l-0.8 1.1M421.7 400.6l-1.4 0.4M398.5 404.7l0.3 0.3M621.3 288.5l-0.1 0.5M587.6 303.2l-1.2 0.7M270.7 390.0l-0.1 0.9M470.3 328.1l0.7 0.0M307.5 304.2l0.6 0.6M555.6 429.3l-0.5 0.8M620.2 398.2l-0.7 0.6M458.4 266.0l0.2 0.5M263.1 362.6l-0.9 0.1M554.7 290.8l0.3 0.2M612.9 301.1l-0.3 0.4M357.1 315.0l0.4 0.2M283.9 327.3l0.9 0.2M606.3 437.3l-0.3 0.4M489.5 285.7l0.1 0.5M374.1 297.1l-0.7 0.2M607.1 295.1l-0.1 0.2M403.5 310.7l-0.3 0.3M434.0 319.1l-0.7 1.2M420.6 288.5l0.3 0.2M566.3 343.6l0.2 0.4M586.4 386.6l0.0 0.5M470.7 271.0l0.1 0.2M616.5 394.7l0.1 0.2M286.8 327.5l-0.6 1.3M273.2 470.4l0.7 0.1M576.2 312.0l0.1 0.1M276.5 325.3l0.2 0.3M322.5 453.1l-0.2 0.7M420.8 417.4l0.2 0.0M459.5 346.5l0.3 0.3M373.6 341.2l0.9 1.1M479.8 407.7l-1.3 0.5M520.9 477.6l-0.5 0.0M402.8 272.4l0.3 0.2M523.6 367.3l-0.4 0.2M591.7 434.0l-0.8 0.4M462.0 451.7l-0.5 0.1M487.7 338.7l0.4 0.1M603.7 397.9l0.2 0.0M412.8 288.4l0.2 0.1M324.6 338.7l0.4 0.2M569.0 353.9l0.3 0.3M572.0 471.0l0.2 0.9M589.4 305.8l-0.4 0.2M464.6 445.9l1.1 0.9M266.6 280.8l-0.6 0.7M411.6 464.1l0.2 0.3M260.4 270.1l0.1 0.4M430.8 271.6l1.4 0.2M501.9 417.8l-1.0 1.0M411.9 261.4l-0.2 0.0M526.3 303.2l-1.2 0.7M578.8 341.4l-1.4 0.1M304.4 413.8l0.4 0.3M429.6 371.5l-0.2 0.9M229.2 309.8l0.2 0.7M610.5 474.3l0.0 1.4M593.5 367.6l-0.0 0.4M595.5 470.8l-0.9 1.1M293.3 321.2l-0.2 0.0M512.6 285.7l0.9 0.1M575.2 282.6l0.5 0.8M492.8 316.1l0.3 0.6M269.3 321.1l0.1 0.7M405.1 315.5l-0.1 0.2M397.3 328.1l0.0 0.4M241.9 300.3l0.4 0.3M270.7 432.7l0.7 1.2M588.3 395.9l0.6 1.3M527.1 366.2l0.9 0.2M468.2 446.9l-0.3 0.9M295.0 279.6l0.6 0.4M550.9 416.3l-0.1 0.4M545.4 416.7l0.1 0.2M386.7 473.7l-0.4 0.3M555.9 369.6l-0.3 0.6M479.9 403.2l-0.4 0.8M456.6 267.3l-0.7 0.6M590.8 423.8l0.5 0.7M407.7 404.6l-0.5 0.8M524.5 313.5l-0.1 0.5M233.5 452.4l-0.1 0.2M331.5 314.5l-0.2 0.1M618.5 271.6l-0.1 0.9M487.6 292.8l0.7 0.1M385.8 420.8l-0.5 0.2M389.0 389.7l-0.1 0.2M592.1 349.4l-0.4 0.0M439.9 327.3l-0.3 0.4M344.8 450.3l0.3 1.4M555.6 411.5l0.2 0.1M363.9 362.2l-0.1 0.4M284.2 473.6l-0.3 0.6M486.8 268.3l0.4 0.1M555.7 284.1l0.2 0.3M421.7 428.9l-0.3 0.6M484.7 328.5l-0.2 0.0M620.3 473.3l-0.4 0.6M339.7 303.3l0.5 0.7M311.4 345.3l-0.5 0.1M519.2 349.8l1.3 0.4M387.0 440.4l-0.1 0.5M534.4 371.3l0.2 0.1M308.2 286.8l-0.8 0.4M620.2 319.9l-0.4 0.1M619.0 372.3l-1.3 0.5M348.4 295.2l-0.6 0.3M375.8 283.2l0.0 0.5M398.8 474.0l-0.4 0.0M626.0 474.5l0.7 0.6M468.4 265.1l-0.0 0.4M388.9 370.2l-1.4 0.1M284.4 281.4l1.2 0.6M350.0 422.8l-0.4 0.3M473.0 308.5l0.2 0.4M453.3 350.4l0.9 0.1M297.7 333.2l0.1 0.4M505.6 427.4l-0.9 0.1M611.9 299.1l1.4 0.0M428.7 472.4l-0.1 0.2M318.6 354.8l0.1 1.4M624.7 338.9l-0.1 0.2M353.4 400.8l-0.6 0.3M601.1 284.3l-0.4 0.6M270.7 266.9l0.3 0.2M298.2 467.7l-0.2 0.5M376.5 430.6l0.8 0.4M531.9 384.4l0.8 0.4M334.3 352.0l0.5 0.7M331.6 354.4l-0.7 0.5M370.1 277.5l0.5 0.5M272.4 461.0l-0.5 0.5M605.4 436.9l0.1 0.2M487.8 300.5l0.1 0.9M612.9 379.9l-0.7 0.2M552.9 463.3l-0.4 0.1M355.5 433.0l-0.2 0.1M625.6 317.0l-0.3 0.2M290.8 293.1l-0.4 0.6M416.1 318.5l0.7 0.2M481.9 470.0l1.0 1.0M581.1 444.4l0.2 0.1M247.3 464.2l0.2 0.1M349.6 340.2l-0.4 0.3M532.2 383.1l-0.2 0.4M624.7 427.0l-0.2 0.4M425.7 460.3l0.4 0.2M511.2 291.1l-0.2 0.4M452.8 298.4l-0.2 0.9M444.5 476.3l-0.6 1.3M440.5 305.5l-0.2 0.0M352.5 367.1l-1.0 1.0M552.3 399.2l0.5 0.5M590.5 316.4l-0.2 0.1M318.4 412.5l0.2 0.0M247.1 445.6l-0.2 0.3M529.2 459.1l0.1 0.4M535.0 417.5l0.2 0.0M497.6 372.7l-0.4 0.5M595.4 368.2l-1.4 0.3M389.4 326.3l0.6 0.3M384.4 443.7l-0.7 0.6M243.4 378.0l-0.1 0.2M417.7 319.9l-0.4 0.0M252.7 463.2l-0.6 0.7M369.3 280.5l-0.5 0.7M565.5 461.0l1.2 0.8M312.1 456.9l0.3 0.3M533.2 345.5l-0.5 0.4M415.4 389.7l0.4 0.3M230.1 363.9l0.2 0.9M529.9 268.9l-0.1 0.2M470.0 419.9l-0.1 0.9M251.8 407.7l0.7 0.0M371.2 460.0l0.2 0.1M463.1 268.1l0.1 0.2M291.1 443.9l-1.1 0.9M518.8 404.5l0.0 0.9M252.0 319.1l0.1 0.5M421.8 421.2l-0.5 0.2M526.1 287.5l0.1 0.2M442.7 393.8l-0.4 0.2M336.5 411.3l1.4 0.2M623.0 462.0l-0.2 0.5M295.7 335.7l-0.5 0.8M569.0 361.8l0.2 0.4M451.3 331.1l0.8 0.4M479.9 452.0l-0.1 0.7M615.0 477.5l0.1 0.2M401.7 271.9l-0.1 0.2M348.9 415.8l-0.2 0.1M313.8 272.2l0.9 0.1M401.7 268.7l0.2 0.0M260.6 289.6l0.9 0.2M272.6 270.7l-0.0 0.2M416.1 381.3l-0.1 0.2M512.6 277.2l-0.1 0.2M527.5 270.9l0.2 0.1M228.3 451.1l-0.0 0.2M455.4 297.0l0.8 1.1M523.3 479.0l-0.7 0.3M576.6 447.3l0.1 0.7M551.6 413.3l0.0 0.2M584.1 349.1l1.3 0.5M241.8 397.4l-0.2 1.4M417.9 333.2l0.6 0.7M228.2 450.2l-0.4 0.3M347.4 345.1l-0.2 0.4M514.7 421.6l0.2 0.0M537.0 371.4l0.6 0.7M291.3 353.9l1.4 0.2M332.6 470.3l-0.3 0.6M611.0 268.7l-0.1 0.9M332.1 279.1l-0.4 0.3M401.2 405.1l-0.7 0.5M489.6 468.4l-0.1 0.1M467.6 460.2l0.5 0.2M405.5 385.3l-1.2 0.7M330.9 439.8l0.6 0.4M488.6 366.1l0.1 0.2M330.5 293.7l-0.4 0.0M290.1 262.5l-0.7 0.5M489.5 280.5l-0.2 0.5M318.1 333.6l0.3 0.3M366.7 340.7l-0.5 0.5M273.5 432.4l0.1 0.9M270.3 352.2l-0.6 0.4M595.4 394.2l-0.4 0.0M378.3 293.1l0.2 0.3M443.9 339.7l-0.2 0.0M439.1 365.6l0.2 0.9M469.2 329.2l0.4 0.3M481.5 378.7l0.8 0.4M289.4 457.5l-0.2 0.0M341.4 474.1l0.4 0.6M310.2 306.0l0.2 0.1M351.4 261.1l0.1 0.2M609.9 458.4l-0.4 0.3M320.7 461.5l-0.5 0.7M593.3 453.5l0.4 0.3M435.4 445.4l-0.4 0.1M446.0 263.3l0.2 0.9M361.6 305.4l0.3 0.2M307.9 400.8l-0.5 0.7M301.0 272.7l0.2 0.1M557.5 312.3l-0.1 0.4M335.2 392.6l0.2 0.9M371.0 399.0l0.5 0.1M540.6 262.1l0.4 0.1M234.3 449.7l0.8 0.4M451.2 419.7l-0.2 0.0M406.8 403.0l-0.5 0.1M338.7 395.6l0.6 0.4M271.6 427.9l0.0 0.7M301.6 433.6l0.7 0.2M251.5 308.3l-0.4 0.6M533.5 265.6l-0.4 0.2M480.7 401.1l-0.0 0.9M452.5 479.3l0.1 0.7M627.9 353.5l-0.1 0.9M602.9 362.1l-0.7 0.1M274.6 354.1l-0.2 0.0M295.7 293.6l-0.5 0.1M261.0 391.9l-0.3 0.3M537.0 326.8l0.7 0.1M520.9 477.6l-0.3 0.3M489.3 477.1l-0.3 0.7M276.6 282.4l0.1 0.2M402.2 321.7l-0.9 0.2M330.7 312.2l1.2 0.7M545.2 348.3l-0.1 0.5M287.3 358.0l0.0 0.7M247.3 292.4l0.3 0.6M617.3 336.7l-0.5 0.4M297.8 369.1l-1.1 0.9M413.7 370.0l0.4 0.2M592.3 281.5l0.1 1.4M524.3 273.3l-0.1 0.2M312.5 393.1l-0.1 0.1M485.4 277.3l-0.9 0.1M522.5 275.2l-0.1 0.7M297.5 268.2l-0.3 0.2M268.2 328.4l-0.2 0.4M537.1 413.6l0.2 0.4M308.8 296.3l-0.7 0.1M545.6 434.6l0.0 0.4M344.5 368.8l-0.4 0.1M414.7 454.9l0.2 0.4M280.8 268.4l-0.4 0.0M425.2 432.6l0.5 0.8M324.4 442.4l-0.2 0.7M246.1 465.8l-0.0 0.2M352.5 393.6l-0.2 0.0M417.7 295.7l-0.6 0.7M233.0 370.2l0.1 0.5M283.6 286.3l0.2 1.4M252.5 433.5l0.1 0.9M532.2 337.3l0.9 1.1M422.0 358.6l0.3 0.4M575.2 390.9l-0.3 0.4M492.6 405.6l0.3 0.6M273.2 444.0l0.5 0.7M594.0 323.4l0.5 1.3M308.2 356.9l0.2 0.0M272.3 272.4l-0.1 0.4M537.2 294.5l0.5 0.8M554.1 302.1l0.4 0.1M588.8 430.9l-0.1 0.2M593.4 359.5l0.3 1.4M443.9 388.5l0.4 0.6M323.0 402.1l0.2 0.0M440.7 393.8l-0.4 0.1M484.4 373.7l0.2 0.4M552.4 447.4l-1.1 0.8M411.7 294.7l-0.9 1.1M554.5 470.9l0.2 0.1M439.3 370.9l1.4 0.3M517.0 297.9l0.5 0.1M542.6 317.4l0.4 0.1M507.9 432.5l-0.4 1.3M491.9 422.8l-0.0 0.4M367.6 474.0l-0.1 0.7M511.7 425.9l0.9 0.0M302.9 391.1l0.2 0.7M406.5 348.4l-0.9 0.1M565.8 280.3l0.1 0.2M607.7 459.3l-0.4 0.1M497.9 414.6l-1.3 0.4M333.3 450.7l0.5 0.1M314.0 370.2l0.7 0.0M301.6 452.0l0.9 0.1M431.9 292.5l-0.8 0.3M336.5 329.9l-0.2 0.9M403.3 422.6l-0.5 0.5M535.8 479.0l0.6 0.4M243.0 311.1l-0.2 0.5M612.2 352.0l-0.3 0.4M519.8 351.7l1.4 0.3M454.8 466.9l-0.5 0.1M457.0 416.8l-0.3 0.4M587.0 330.8l-1.1 0.8M465.9 394.2l0.3 0.4M258.6 320.1l-0.1 0.2M422.9 347.7l0.0 0.5M441.5 449.0l-0.1 1.4M388.6 295.5l-0.1 0.4M514.1 422.8l-0.0 0.4M308.7 454.4l-0.7 1.2M546.0 360.4l0.0 0.4M491.2 405.8l0.2 0.0M482.3 290.3l0.2 0.9M511.3 414.0l-0.3 0.3M323.0 378.1l-0.1 0.5M368.7 374.4l0.9 0.2M492.7 332.6l0.4 0.3M501.8 350.4l-0.1 0.5M459.8 447.4l-0.7 0.2M300.0 312.1l-0.2 0.1M569.4 264.3l0.4 0.3M537.0 361.0l1.2 0.7M596.0 454.6l-0.2 0.0M307.1 360.3l-0.2 0.1M355.7 336.4l-0.9 0.2M362.5 463.2l-0.9 1.1M387.5 459.3l1.0 1.0M423.0 453.8l-0.3 0.8M230.8 434.1l-0.3 0.3M378.1 297.6l0.2 0.3M283.4 401.0l-0.0 0.7M594.5 352.1l-0.1 0.4M320.5 382.6l-0.1 0.5M413.2 432.6l-0.3 0.2M255.4 378.7l0.7 0.2M623.2 354.2l-1.4 0.4M448.8 312.3l-0.8 0.5M566.7 474.9l0.8 0.4M548.1 291.9l0.7 0.6M381.4 285.0l-0.2 0.3M334.2 310.8l-0.3 0.3M410.7 298.5l-0.1 0.2M286.7 300.5l-0.2 0.1M444.9 329.5l0.4 0.3M446.2 444.5l-0.6 0.4M581.7 409.6l0.4 1.3M258.4 360.7l-0.5 0.2M338.6 366.1l0.3 1.4M560.9 269.4l0.1 0.4M514.2 431.4l0.4 0.5M337.9 373.5l-0.1 0.2M356.7 467.3l0.1 0.1M500.2 412.0l-0.5 0.1M517.6 416.3l-0.9 0.3M320.4 395.3l-0.5 0.2M310.2 356.7l1.4 0.1M526.8 471.9l0.2 0.3M363.5 404.1l-0.5 0.1M320.3 470.2l0.1 0.4M300.2 298.0l-0.3 0.2M470.4 438.3l0.1 0.5M267.9 468.1l0.1 0.2M297.1 342.4l-0.1 0.1M531.8 449.7l0.2 0.0M567.2 393.5l0.7 0.2M480.5 339.4l-0.6 0.4M578.2 336.1l-1.4 0.2M317.2 389.0l0.6 0.3M347.6 423.1l0.2 0.7M484.1 343.2l0.2 0.5M287.3 447.0l-0.4 0.2M239.8 358.5l-0.5 0.1M599.3 302.1l-0.3 0.2M401.8 395.7l0.5 0.2M400.0 341.5l-0.4 0.2M499.8 436.7l0.1 0.2M444.9 473.2l0.2 0.1M250.8 366.1l-0.5 0.1M235.4 466.3l0.6 0.4M477.3 405.5l-0.9 1.1M431.0 321.7l0.8 0.4M588.0 479.0l0.9 1.1M291.9 339.5l0.4 1.3M264.6 357.6l0.2 0.7M492.5 331.4l-0.0 0.9M455.4 422.3l0.5 0.8M586.1 314.1l0.3 0.4M515.2 271.1l-0.6 1.3M429.5 447.4l-0.6 0.4M565.2 275.8l-0.3 0.3M472.4 306.7l-0.9 0.2M413.6 451.8l-0.3 0.4M285.7 442.0l-1.2 0.7M498.5 385.9l0.3 0.3M547.9 448.1l-0.4 0.2M477.0 344.5l1.4 0.0M583.1 391.4l0.5 0.1M319.5 453.0l0.5 0.5M501.4 291.4l-1.2 0.6M233.9 377.5l0.4 1.3M512.7 412.9l-0.1 0.4M606.1 362.8l-0.4 0.3M591.5 448.9l0.7 0.1M278.3 449.2l-0.7 0.5M529.0 424.4l0.1 0.1M376.3 370.5l0.3 0.4M361.8 409.1l0.5 0.1M453.5 285.8l0.9 0.0M284.3 310.6l0.3 0.2M509.9 373.3l-0.5 0.1M539.5 386.0l-0.1 0.5M425.8 370.1l0.5 0.1M580.3 423.5l-0.4 0.1M403.6 439.7l-0.8 1.2M255.1 283.5l0.5 0.5M260.6 284.3l-0.5 0.2M592.3 404.8l-0.1 0.4M552.6 385.3l-0.1 0.1M429.5 438.9l-0.2 0.1M493.0 443.3l-0.8 0.4M579.3 478.3l-0.8 0.5M446.9 353.7l-0.2 0.1M601.6 380.4l0.3 0.4M355.3 314.8l-0.7 0.0M317.1 479.1l-0.1 0.5M352.8 372.4l0.5 0.1M498.5 279.8l0.7 0.2M390.4 373.6l-0.4 0.2M266.3 285.5l-0.4 0.1M591.6 387.7l0.9 0.2M281.8 399.0l-0.2 0.5M453.1 393.1l-0.4 0.5M257.5 346.6l0.2 0.1M239.1 348.6l0.5 0.1M435.2 441.4l-0.1 0.2M572.8 407.2l-0.0 0.2M320.6 412.5l0.5 0.7M391.8 398.0l-0.1 0.2M367.8 402.2l0.0 0.2M243.2 386.3l-0.5 0.0M275.4 450.1l-0.6 0.3M512.4 338.5l0.5 0.0M469.8 412.7l-1.4 0.3M340.9 276.9l0.6 0.3M342.1 406.5l0.3 0.2M517.4 283.5l0.1 0.5M605.0 407.4l0.5 0.1M390.7 305.1l-1.4 0.1M360.1 366.6l0.2 0.4M405.0 433.9l-0.2 0.0M274.0 315.7l-0.1 1.4M625.0 373.6l-0.7 0.1M544.1 303.0l0.3 0.4M292.3 341.8l0.1 0.5M619.1 318.3l0.1 0.1M573.2 446.5l0.4 0.6M557.5 443.9l-0.3 0.6M425.8 373.5l1.1 0.9M268.8 302.8l0.2 0.4M524.5 379.5l-0.4 0.8M471.6 392.0l0.9 0.1M440.6 466.8l0.1 0.2M449.6 411.8l0.4 0.1M440.2 447.7l-0.5 0.2M471.2 334.2l0.7 0.0M458.2 328.3l0.1 0.2M495.8 455.6l-0.8 0.3M489.1 261.7l-0.7 0.1M415.1 405.7l-0.8 0.4" fill="none" stroke="#9a9a9a" stroke-width="1.1" stroke-linecap="round"/>
<line x1="226.5" y1="258.8" x2="628.7" y2="258.8" stroke="#b2b2b2" stroke-width="1.4"/>
<line x1="226.8" y1="258" x2="226.8" y2="480" stroke="#b2b2b2" stroke-width="1.4"/>
<!-- window frame -->
<g stroke="#222" stroke-width="1.3" fill="none">
<path d="M189 64V167.5H312.5V64"/>
<line x1="212.5" y1="64" x2="212.5" y2="167.5"/>
<rect x="228.5" y="167.5" width="41" height="7.7"/>
<rect x="237.3" y="186.4" width="22.2" height="13.8"/>
</g>
<!-- gray profile -->
<path d="M226.8 407.5H181V197.4H350V207.2H191V252.6L211 255.4V264.4H191V361.5H213.3V371.1H191V397.5H226.8Z" fill="#a0a0a0"/>
<path d="M226.8 407.5H181V197.4H350V207.2H191V252.6L211 255.4V264.4H191V361.5H213.3V371.1H191V397.5H226.8" fill="none" stroke="#1e1e1e" stroke-width="1.3" stroke-linejoin="round"/>
<rect x="237.3" y="186.4" width="22.2" height="13.8" fill="none" stroke="#222" stroke-width="1.3"/>
<line x1="248.1" y1="109.2" x2="248.1" y2="210.5" stroke="#333" stroke-width="1.4" stroke-dasharray="3.2 1.2"/>
<!-- blue profile -->
<path d="M216.2 326.8V257A15.5 15.5 0 0 1 231.7 241.5H428.9" fill="none" stroke="#0b5e9e" stroke-width="10.8"/>
<path d="M216.2 326.3V257A15.5 15.5 0 0 1 231.7 241.5H428.4" fill="none" stroke="#0070c0" stroke-width="9.6"/>
<!-- red clip -->
<path d="M283.5 214L313 235L397 220.5C405 219 409 215 408.7 209.5C408.5 203 403 197.3 396 198.3L355 207.2C348.5 208.8 344.7 204.5 344.9 199.8C345.2 193 350 188.6 355 189.2L384 193.8C393 195 398.5 189 398.4 181C398.2 173 391 167.3 378 167.3H336" fill="none" stroke="#c1272d" stroke-width="1.5" stroke-linejoin="round"/>
<path d="M317 166L337 165.2V173.5Z" fill="#c91b22"/>
<!-- arrow -->
<line x1="369" y1="271" x2="410.6" y2="368.7" stroke="#222" stroke-width="1.2"/>
<path d="M359.1 247L375.6 268.7L362.6 274Z" fill="#000"/>
<!-- text -->
<g class="tx">
<text class="t" x="387" y="401.7" font-size="33" fill="#111" stroke="#111" stroke-width="0.55" transform="translate(387 0) scale(0.555 1) translate(-387 0)">KCTC</text>
<text class="t" x="375" y="522.8" font-size="20" fill="#111" stroke="#111" stroke-width="0.4" transform="translate(375 0) scale(0.765 1) translate(-375 0)">Standard</text>
<text class="t" x="315.5" y="576.9" font-size="17.5" font-weight="bold" fill="#6b6b6b" stroke="#6b6b6b" stroke-width="0.35" letter-spacing="1.75" word-spacing="-2.5" transform="translate(315.5 0) scale(0.8 1) translate(-315.5 0)">FISSAGGIO CON CLIPS</text>
</g>
</svg>
</body></html>
